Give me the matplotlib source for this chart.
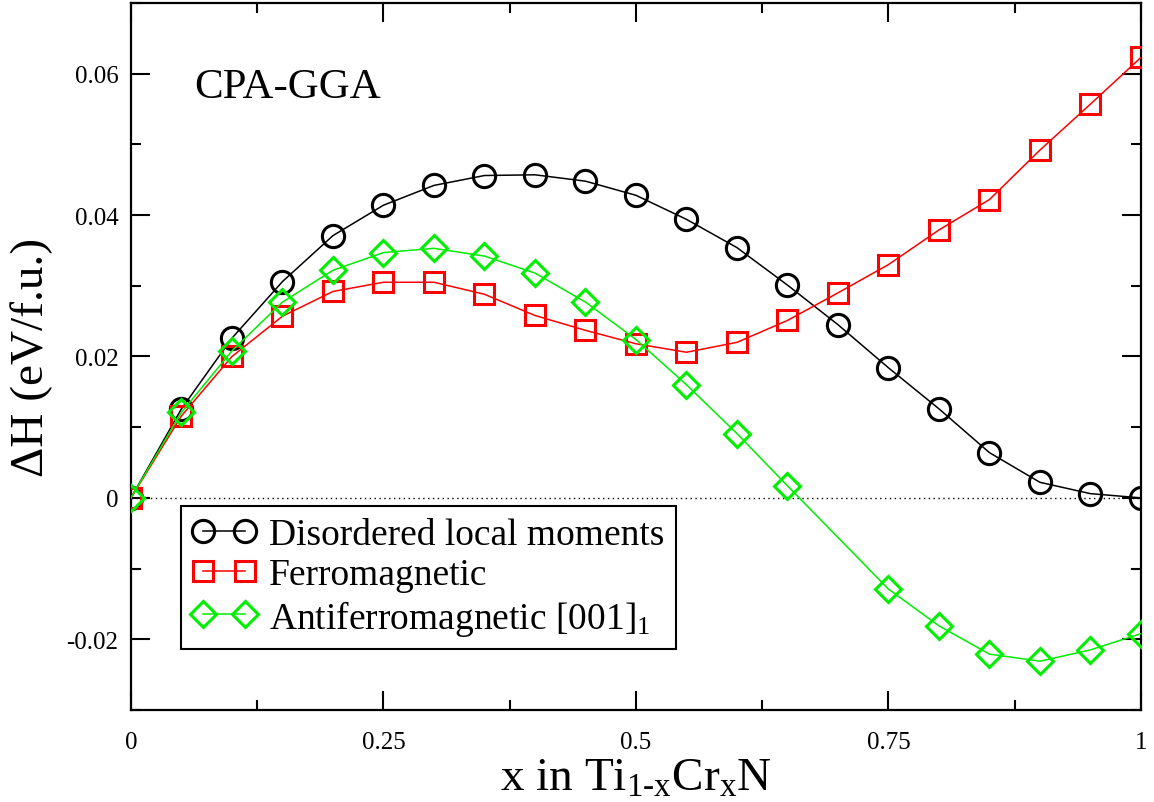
import matplotlib
matplotlib.use("Agg")
import matplotlib.pyplot as plt
from matplotlib.ticker import MultipleLocator, FixedLocator

plt.rcParams['font.family'] = ['Liberation Serif', 'DejaVu Serif']
plt.rcParams['mathtext.fontset'] = 'custom'
plt.rcParams['mathtext.rm'] = 'Liberation Serif'
plt.rcParams['mathtext.it'] = 'Liberation Serif'

# Cr concentration x
x_all = [0.0, 0.05, 0.1, 0.15, 0.2, 0.25, 0.3, 0.35, 0.4, 0.45, 0.5,
         0.55, 0.6, 0.65, 0.7, 0.75, 0.8, 0.85, 0.9, 0.95, 1.0]

# mixing enthalpy (eV/f.u.)
dlm = [0.0, 0.0126, 0.0226, 0.0306, 0.0371, 0.0414, 0.0442, 0.0456, 0.0457, 0.0448, 0.0428,
       0.0394, 0.0354, 0.0301, 0.0245, 0.0184, 0.0126, 0.0064, 0.0022, 0.0006, 0.0]
fm = [0.0, 0.0116, 0.0200, 0.0257, 0.0292, 0.0305, 0.0305, 0.0288, 0.0258, 0.0237, 0.0218,
      0.0206, 0.0220, 0.0251, 0.0290, 0.0330, 0.0379, 0.0422, 0.0492, 0.0557, 0.0623]

# AFM has no point at x = 0.7
x_afm = [0.0, 0.05, 0.1, 0.15, 0.2, 0.25, 0.3, 0.35, 0.4, 0.45, 0.5,
         0.55, 0.6, 0.65, 0.75, 0.8, 0.85, 0.9, 0.95, 1.0]
afm = [0.0, 0.0121, 0.0208, 0.0277, 0.0322, 0.0347, 0.0353, 0.0342, 0.0318, 0.0277, 0.0224,
       0.0160, 0.0091, 0.0017, -0.0129, -0.0181, -0.0221, -0.0231, -0.0215, -0.0192]

labels = ['Disordered local moments', 'Ferromagnetic', 'Antiferromagnetic [001]$_1$']

x_ticks = [0, 0.25, 0.5, 0.75, 1]
x_ticklabels = ['0', '0.25', '0.5', '0.75', '1']
y_ticks = [-0.02, 0, 0.02, 0.04, 0.06]
y_ticklabels = ['-0.02', '0', '0.02', '0.04', '0.06']

fig = plt.figure(figsize=(11.54, 8.03), dpi=100)
ax = fig.add_axes([0.1135, 0.1146, 0.8752, 0.8804])

ax.axhline(0, color='black', lw=1.0, ls=(0, (1, 2.5)), zorder=1)

ax.plot(x_all, dlm, color='black', lw=1.1, marker='o', ms=16, mfc='none', mew=2.2,
        label=labels[0], zorder=3)
ax.plot(x_all, fm, color='red', lw=1.1, marker='s', ms=15, mfc='none', mew=2.2,
        label=labels[1], zorder=4)
ax.plot(x_afm, afm, color='#00ee00', lw=1.1, marker='D', ms=13, mfc='none', mew=2.2,
        label=labels[2], zorder=5)

ax.set_xlim(0, 1)
ax.set_ylim(-0.03, 0.07)
ax.xaxis.set_major_locator(FixedLocator(x_ticks))
ax.set_xticklabels(x_ticklabels)
ax.xaxis.set_minor_locator(MultipleLocator(0.125))
ax.yaxis.set_major_locator(FixedLocator(y_ticks))
ax.set_yticklabels(y_ticklabels)
ax.yaxis.set_minor_locator(MultipleLocator(0.01))

ax.tick_params(which='both', direction='in', top=True, right=True, width=1.5)
ax.tick_params(which='major', length=14, labelsize=18)
ax.tick_params(axis='x', which='major', pad=15)
ax.tick_params(axis='y', which='major', pad=9)
ax.tick_params(which='minor', length=7)
for s in ax.spines.values():
    s.set_linewidth(1.6)

ax.set_xlabel(r'x in Ti$_{\mathrm{1}\text{-}\mathrm{x}}$Cr$_{\mathrm{x}}$N', fontsize=34, labelpad=3)
ax.set_ylabel(u'\u0394H (eV/f.u.)', fontsize=34, labelpad=10)

ax.text(0.063, 0.0567, 'CPA-GGA', fontsize=31, va='baseline', ha='left')

leg = ax.legend(loc='upper left', bbox_to_anchor=(0.0495, 0.2885), fontsize=27,
                numpoints=2, handlelength=1.7, handletextpad=0.35, borderpad=0.3,
                labelspacing=0.15, borderaxespad=0, fancybox=False, framealpha=1,
                edgecolor='black')
leg.get_frame().set_linewidth(1.5)

plt.savefig('out.png', dpi=100)
